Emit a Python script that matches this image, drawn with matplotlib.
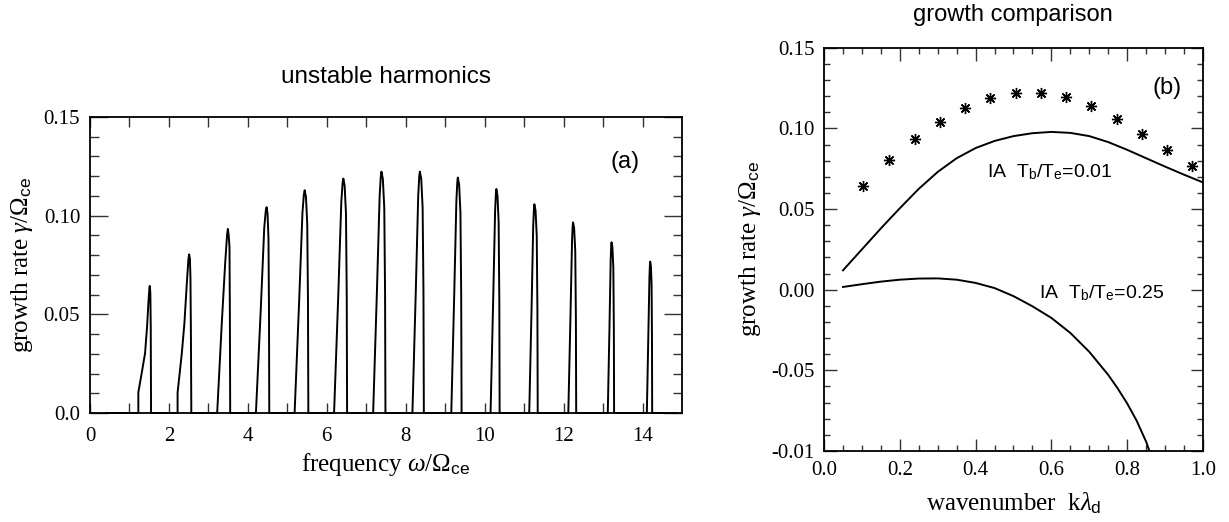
import matplotlib
matplotlib.use("Agg")
import matplotlib.pyplot as plt
from matplotlib.ticker import MultipleLocator, FixedLocator

plt.rcParams['mathtext.fontset'] = 'custom'
plt.rcParams['mathtext.rm'] = 'Liberation Serif'
plt.rcParams['mathtext.it'] = 'Liberation Serif:italic'
plt.rcParams['mathtext.sf'] = 'Liberation Sans'

# ---------------- data: panel (a) unstable harmonics ----------------
baseline_x = [0.4, 14.85]
spike_x = [
    [1.226, 1.226, 1.31, 1.396, 1.447, 1.48, 1.505, 1.515, 1.53, 1.54, 1.548],
    [2.22, 2.22, 2.327, 2.393, 2.454, 2.495, 2.513, 2.533, 2.546, 2.558, 2.568],
    [3.223, 3.34, 3.426, 3.475, 3.494, 3.515, 3.535, 3.545, 3.553],
    [4.205, 4.327, 4.416, 4.453, 4.475, 4.499, 4.523, 4.536, 4.543],
    [5.185, 5.300, 5.384, 5.420, 5.44, 5.473, 5.505, 5.524, 5.533],
    [6.185, 6.291, 6.368, 6.401, 6.42, 6.453, 6.487, 6.506, 6.515],
    [7.175, 7.270, 7.340, 7.369, 7.386, 7.421, 7.457, 7.477, 7.487],
    [8.17, 8.255, 8.317, 8.343, 8.358, 8.394, 8.429, 8.450, 8.46],
    [9.155, 9.229, 9.284, 9.307, 9.32, 9.354, 9.387, 9.406, 9.416],
    [10.15, 10.216, 10.265, 10.285, 10.297, 10.326, 10.355, 10.372, 10.38],
    [11.13, 11.189, 11.231, 11.250, 11.26, 11.290, 11.320, 11.337, 11.345],
    [12.12, 12.174, 12.214, 12.230, 12.24, 12.268, 12.296, 12.312, 12.32],
    [13.12, 13.163, 13.194, 13.207, 13.215, 13.238, 13.261, 13.274, 13.28],
    [14.11, 14.148, 14.176, 14.188, 14.195, 14.213, 14.23, 14.24, 14.245],
]
spike_y = [
    [0, 0.0105, 0.0201, 0.0303, 0.0437, 0.0556, 0.063, 0.0644, 0.0607, 0.0437, 0],
    [0, 0.0103, 0.0302, 0.0455, 0.0657, 0.078, 0.0804, 0.078, 0.0687, 0.04, 0],
    [0, 0.0455, 0.0759, 0.0905, 0.0933, 0.09, 0.0843, 0.05, 0],
    [0, 0.0522, 0.0939, 0.1022, 0.1043, 0.1012, 0.0887, 0.0522, 0],
    [0, 0.0565, 0.1016, 0.1106, 0.1129, 0.1095, 0.096, 0.0565, 0],
    [0, 0.0594, 0.1069, 0.1164, 0.1188, 0.1152, 0.101, 0.0594, 0],
    [0, 0.0612, 0.1101, 0.1199, 0.1223, 0.1186, 0.104, 0.0612, 0],
    [0, 0.0612, 0.1101, 0.1199, 0.1223, 0.1186, 0.104, 0.0612, 0],
    [0, 0.0597, 0.1074, 0.1169, 0.1193, 0.1157, 0.1014, 0.0597, 0],
    [0, 0.0568, 0.1022, 0.1112, 0.1135, 0.1101, 0.0965, 0.0568, 0],
    [0, 0.0529, 0.0952, 0.1037, 0.1058, 0.1026, 0.0899, 0.0529, 0],
    [0, 0.0483, 0.0869, 0.0947, 0.0966, 0.0937, 0.0821, 0.0483, 0],
    [0, 0.0433, 0.0779, 0.0848, 0.0865, 0.0839, 0.0735, 0.0433, 0],
    [0, 0.0384, 0.069, 0.0752, 0.0767, 0.0744, 0.0652, 0.0384, 0],
]
a_xticks = [0, 2, 4, 6, 8, 10, 12, 14]
a_xtick_labels = ['0', '2', '4', '6', '8', '10', '12', '14']
a_yticks = [0.0, 0.05, 0.10, 0.15]
a_ytick_labels = ['0.0', '0.05', '0.10', '0.15']

# ---------------- data: panel (b) growth comparison ----------------
star_k = [0.104, 0.172, 0.240, 0.306, 0.373, 0.439, 0.506, 0.572, 0.638, 0.704,
          0.772, 0.838, 0.904, 0.972]
star_gamma = [0.0644, 0.0802, 0.0932, 0.1039, 0.1126, 0.1186, 0.1221, 0.1221,
              0.1194, 0.1140, 0.1060, 0.0965, 0.0867, 0.0768]
ia001_k = [0.05, 0.10, 0.15, 0.20, 0.25, 0.30, 0.35, 0.40, 0.45, 0.50, 0.55,
           0.60, 0.65, 0.70, 0.75, 0.80, 0.85, 0.90, 0.95, 1.00]
ia001_gamma = [0.012, 0.025, 0.038, 0.0505, 0.0625, 0.0730, 0.0815, 0.0878, 0.0922,
               0.0952, 0.0970, 0.0978, 0.0972, 0.0952, 0.0915, 0.0867, 0.0815,
               0.0763, 0.0713, 0.0665]
ia025_k = [0.05, 0.10, 0.15, 0.20, 0.25, 0.30, 0.35, 0.40, 0.45, 0.50, 0.55,
           0.60, 0.65, 0.70, 0.75, 0.775, 0.80, 0.825, 0.85, 0.858]
ia025_gamma = [0.0017, 0.0034, 0.0050, 0.0062, 0.0069, 0.0070, 0.0062, 0.0042,
               0.0010, -0.0040, -0.0103, -0.0175, -0.0268, -0.0385, -0.0528,
               -0.0612, -0.0705, -0.0812, -0.0942, -0.0995]
b_xticks = [0.0, 0.2, 0.4, 0.6, 0.8, 1.0]
b_xtick_labels = ['0.0', '0.2', '0.4', '0.6', '0.8', '1.0']
b_yticks = [-0.10, -0.05, 0.0, 0.05, 0.10, 0.15]
b_ytick_labels = ['-0.01', '-0.05', '0.00', '0.05', '0.10', '0.15']

# ---------------- figure ----------------
SERIF = 'Liberation Serif'
SANS = 'Liberation Sans'
fig = plt.figure(figsize=(12.29, 5.22), dpi=100)
ax1 = fig.add_axes([0.0732, 0.2088, 0.4817, 0.5671])
ax2 = fig.add_axes([0.6705, 0.136, 0.3083, 0.7726])

for ax in (ax1, ax2):
    for s in ax.spines.values():
        s.set_linewidth(1.3)
    ax.tick_params(which='both', direction='in', top=True, right=True,
                   width=1.0, color='#333333', labelsize=15, pad=7)

# panel (a)
hx = [baseline_x[0]]
hy = [0.0]
for xs, ys in zip(spike_x, spike_y):
    hx += xs
    hy += ys
hx.append(baseline_x[1])
hy.append(0.0)
ax1.plot(hx, hy, color='black', lw=1.4, clip_on=False, solid_joinstyle='round')
ax1.set_xlim(0, 15)
ax1.set_ylim(0, 0.15)
ax1.set_xticks(a_xticks)
ax1.set_xticklabels(a_xtick_labels, fontfamily=SERIF)
ax1.xaxis.set_minor_locator(FixedLocator([1, 3, 5, 7, 9, 11, 13]))
ax1.set_yticks(a_yticks)
ax1.set_yticklabels(a_ytick_labels, fontfamily=SERIF)
ax1.yaxis.set_minor_locator(MultipleLocator(0.01))
ax1.tick_params(axis='x', which='both', length=7, pad=10)
ax1.tick_params(axis='y', which='major', length=13)
ax1.tick_params(axis='y', which='minor', length=6.5)
ax1.set_xlabel(r'frequency $\omega/\Omega_{\mathsf{ce}}$', fontfamily=SERIF,
               fontsize=18, labelpad=4)
ax1.set_ylabel(r'growth rate $\gamma/\Omega_{\mathsf{ce}}$', fontfamily=SERIF,
               fontsize=18, labelpad=6)
ax1.text(13.55, 0.127, '(a)', fontfamily=SANS, fontsize=17, ha='center', va='center')
fig.text(0.314, 0.853, 'unstable harmonics', fontfamily=SANS, fontsize=17.5,
         ha='center', va='center')

# panel (b)
ax2.plot(star_k, star_gamma, linestyle='none', marker=(8, 2, 0), ms=8, mew=1.0,
         color='black')
ax2.plot(ia001_k, ia001_gamma, color='black', lw=1.4)
ax2.plot(ia025_k, ia025_gamma, color='black', lw=1.4)
ax2.set_xlim(0, 1.0)
ax2.set_ylim(-0.10, 0.15)
ax2.set_xticks(b_xticks)
ax2.set_xticklabels(b_xtick_labels, fontfamily=SERIF)
ax2.xaxis.set_minor_locator(MultipleLocator(0.05))
ax2.set_yticks(b_yticks)
ax2.set_yticklabels(b_ytick_labels, fontfamily=SERIF)
ax2.yaxis.set_minor_locator(MultipleLocator(0.01))
ax2.tick_params(which='major', length=9)
ax2.tick_params(which='minor', length=4.5)
ax2.set_xlabel(r'wavenumber  k$\lambda_{\mathsf{d}}$', fontfamily=SERIF,
               fontsize=18, labelpad=8)
ax2.set_ylabel(r'growth rate $\gamma/\Omega_{\mathsf{ce}}$', fontfamily=SERIF,
               fontsize=18, labelpad=6)
ax2.text(0.905, 0.125, '(b)', fontfamily=SANS, fontsize=17, ha='center', va='center')
ax2.text(0.43, 0.073, r'IA  T$_{\mathsf{b}}$/T$_{\mathsf{e}}$=0.01', fontfamily=SANS,
         fontsize=14, ha='left', va='center')
ax2.text(0.567, -0.002, r'IA  T$_{\mathsf{b}}$/T$_{\mathsf{e}}$=0.25', fontfamily=SANS,
         fontsize=14, ha='left', va='center')
fig.text(0.824, 0.971, 'growth comparison', fontfamily=SANS, fontsize=17,
         ha='center', va='center')

fig.savefig('out.png', dpi=100)
